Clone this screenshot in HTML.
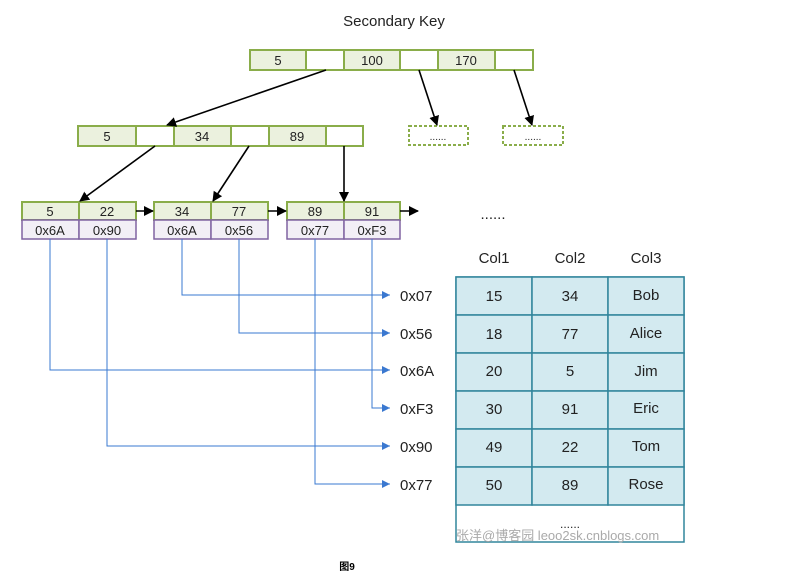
<!DOCTYPE html>
<html><head><meta charset="utf-8"><style>body{margin:0;background:#fff}svg{display:block}</style></head><body>
<svg width="810" height="583" xmlns="http://www.w3.org/2000/svg" font-family="'Liberation Sans','Noto Sans CJK SC',sans-serif">
<defs>
<marker id="ak" markerWidth="10" markerHeight="10" refX="9" refY="5" orient="auto" markerUnits="userSpaceOnUse"><path d="M0,0 L10,5 L0,10 z" fill="#000"/></marker>
<marker id="ab" markerWidth="8" markerHeight="8" refX="8" refY="4" orient="auto" markerUnits="userSpaceOnUse"><path d="M0,0 L8,4 L0,8 z" fill="#3a78d0"/></marker>
</defs>
<text x="394" y="26" font-size="15" text-anchor="middle" fill="#222">Secondary Key</text>
<g stroke="#8aad4a" stroke-width="2" font-size="13" text-anchor="middle">
<rect x="250" y="50" width="56" height="20" fill="#ebf1de"/><rect x="306" y="50" width="38" height="20" fill="#fff"/>
<rect x="344" y="50" width="56" height="20" fill="#ebf1de"/><rect x="400" y="50" width="38" height="20" fill="#fff"/>
<rect x="438" y="50" width="57" height="20" fill="#ebf1de"/><rect x="495" y="50" width="38" height="20" fill="#fff"/>
<rect x="78" y="126" width="58" height="20" fill="#ebf1de"/><rect x="136" y="126" width="38" height="20" fill="#fff"/>
<rect x="174" y="126" width="57" height="20" fill="#ebf1de"/><rect x="231" y="126" width="38" height="20" fill="#fff"/>
<rect x="269" y="126" width="57" height="20" fill="#ebf1de"/><rect x="326" y="126" width="37" height="20" fill="#fff"/>
<rect x="409" y="126" width="59" height="19" fill="#fff" stroke-dasharray="3,2"/>
<rect x="503" y="126" width="60" height="19" fill="#fff" stroke-dasharray="3,2"/>
<rect x="22" y="202" width="57" height="18" fill="#ebf1de"/><rect x="79" y="202" width="57" height="18" fill="#ebf1de"/>
<rect x="154" y="202" width="57" height="18" fill="#ebf1de"/><rect x="211" y="202" width="57" height="18" fill="#ebf1de"/>
<rect x="287" y="202" width="57" height="18" fill="#ebf1de"/><rect x="344" y="202" width="56" height="18" fill="#ebf1de"/>
</g>
<g stroke="#8064a2" stroke-width="1.5" fill="#f2eff6">
<rect x="22" y="220" width="57" height="19"/><rect x="79" y="220" width="57" height="19"/>
<rect x="154" y="220" width="57" height="19"/><rect x="211" y="220" width="57" height="19"/>
<rect x="287" y="220" width="57" height="19"/><rect x="344" y="220" width="56" height="19"/>
</g>
<g font-size="13" text-anchor="middle" fill="#222">
<text x="278" y="65">5</text><text x="372" y="65">100</text><text x="466" y="65">170</text>
<text x="107" y="141">5</text><text x="202" y="141">34</text><text x="297" y="141">89</text>
<text x="438" y="140" font-size="10">......</text><text x="533" y="140" font-size="10">......</text>
<text x="50" y="216">5</text><text x="107" y="216">22</text><text x="182" y="216">34</text><text x="239" y="216">77</text><text x="315" y="216">89</text><text x="372" y="216">91</text>
<text x="50" y="235">0x6A</text><text x="107" y="235">0x90</text><text x="182" y="235">0x6A</text><text x="239" y="235">0x56</text><text x="315" y="235">0x77</text><text x="372" y="235">0xF3</text>
<text x="493" y="219" font-size="15">......</text>
</g>
<g stroke="#000" stroke-width="1.6" marker-end="url(#ak)">
<line x1="326" y1="70" x2="167" y2="125"/><line x1="419" y1="70" x2="437" y2="125"/><line x1="514" y1="70" x2="532" y2="125"/>
<line x1="155" y1="146" x2="80" y2="201"/><line x1="249" y1="146" x2="213" y2="201"/><line x1="344" y1="146" x2="344" y2="201"/>
<line x1="136" y1="211" x2="153" y2="211"/><line x1="268" y1="211" x2="286" y2="211"/><line x1="400" y1="211" x2="418" y2="211"/>
</g>
<g stroke="#3a78d0" stroke-width="1" fill="none" marker-end="url(#ab)">
<polyline points="182,239 182,295 390,295"/>
<polyline points="239,239 239,333 390,333"/>
<polyline points="50,239 50,370 390,370"/>
<polyline points="372,239 372,408 390,408"/>
<polyline points="107,239 107,446 390,446"/>
<polyline points="315,239 315,484 390,484"/>
</g>
<g font-size="15" fill="#222">
<text x="400" y="301">0x07</text><text x="400" y="339">0x56</text><text x="400" y="376">0x6A</text>
<text x="400" y="414">0xF3</text><text x="400" y="452">0x90</text><text x="400" y="490">0x77</text>
</g>
<g font-size="15" text-anchor="middle" fill="#222">
<text x="494" y="263">Col1</text><text x="570" y="263">Col2</text><text x="646" y="263">Col3</text>
</g>
<rect x="456" y="277" width="228" height="265" fill="#fff" stroke="#31859c" stroke-width="1.5"/>
<g stroke="#31859c" stroke-width="1.5" fill="#d3eaf0">
<rect x="456" y="277" width="76" height="38"/><rect x="532" y="277" width="76" height="38"/><rect x="608" y="277" width="76" height="38"/>
<rect x="456" y="315" width="76" height="38"/><rect x="532" y="315" width="76" height="38"/><rect x="608" y="315" width="76" height="38"/>
<rect x="456" y="353" width="76" height="38"/><rect x="532" y="353" width="76" height="38"/><rect x="608" y="353" width="76" height="38"/>
<rect x="456" y="391" width="76" height="38"/><rect x="532" y="391" width="76" height="38"/><rect x="608" y="391" width="76" height="38"/>
<rect x="456" y="429" width="76" height="38"/><rect x="532" y="429" width="76" height="38"/><rect x="608" y="429" width="76" height="38"/>
<rect x="456" y="467" width="76" height="38"/><rect x="532" y="467" width="76" height="38"/><rect x="608" y="467" width="76" height="38"/>
</g>
<g font-size="15" text-anchor="middle" fill="#222">
<text x="494" y="301">15</text><text x="570" y="301">34</text><text x="646" y="300">Bob</text>
<text x="494" y="339">18</text><text x="570" y="339">77</text><text x="646" y="338">Alice</text>
<text x="494" y="376">20</text><text x="570" y="376">5</text><text x="646" y="376">Jim</text>
<text x="494" y="414">30</text><text x="570" y="414">91</text><text x="646" y="413">Eric</text>
<text x="494" y="452">49</text><text x="570" y="452">22</text><text x="646" y="451">Tom</text>
<text x="494" y="490">50</text><text x="570" y="490">89</text><text x="646" y="489">Rose</text>
<text x="570" y="528" font-size="12">......</text>
</g>
<text x="456" y="540" font-size="13" fill="#aaa">张洋@博客园 leoo2sk.cnblogs.com</text>
<text x="347" y="570" font-size="10" font-weight="bold" text-anchor="middle" fill="#000">图9</text>
</svg>
</body></html>
